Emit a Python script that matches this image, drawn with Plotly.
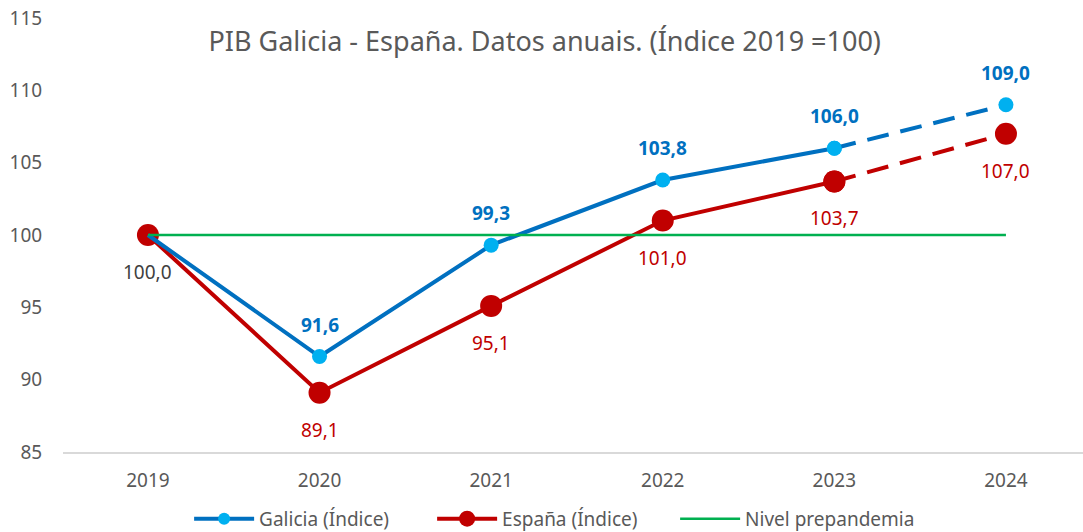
import plotly.graph_objects as go

years = ["2019", "2020", "2021", "2022", "2023", "2024"]
galicia = [100.0, 91.6, 99.3, 103.8, 106.0, 109.0]
espana = [100.0, 89.1, 95.1, 101.0, 103.7, 107.0]
prepandemia = [100, 100, 100, 100, 100, 100]
y_ticks = [85, 90, 95, 100, 105, 110, 115]

title = "PIB Galicia - España. Datos anuais. (Índice 2019 =100)"
FONT = "Noto Sans"
GRAY = "#595959"
BLUE = "#0070C0"
LBLUE = "#00B0F0"
RED = "#C00000"
GREEN = "#00B050"
DASH = "22px,12px"

fig = go.Figure()

# España (drawn first, under Galicia)
fig.add_trace(go.Scatter(
    x=years[:5], y=espana[:5], mode="lines+markers", name="España (Índice)",
    line=dict(color=RED, width=4),
    marker=dict(color=RED, size=22, opacity=1, line=dict(width=0)),
    legendrank=2,
))
fig.add_trace(go.Scatter(
    x=years[4:], y=espana[4:], mode="lines+markers", showlegend=False,
    line=dict(color=RED, width=4, dash=DASH),
    marker=dict(color=RED, size=22, opacity=1, line=dict(width=0)),
))

# Galicia
fig.add_trace(go.Scatter(
    x=years[:5], y=galicia[:5], mode="lines+markers", name="Galicia (Índice)",
    line=dict(color=BLUE, width=4),
    marker=dict(color=LBLUE, size=[0, 15, 15, 15, 15], opacity=1, line=dict(width=0)),
    legendrank=1,
))
fig.add_trace(go.Scatter(
    x=years[4:], y=galicia[4:], mode="lines+markers", showlegend=False,
    line=dict(color=BLUE, width=4, dash=DASH),
    marker=dict(color=LBLUE, size=15, opacity=1, line=dict(width=0)),
))

# Nivel prepandemia
fig.add_trace(go.Scatter(
    x=years, y=prepandemia, mode="lines", name="Nivel prepandemia",
    line=dict(color=GREEN, width=2.5), legendrank=3,
))

def fmt(v):
    return f"{v:.1f}".replace(".", ",")

annotations = []
for i, v in enumerate(galicia):
    if i == 0:
        continue
    annotations.append(dict(x=i, y=v, xref="x", yref="y", text=f"<b>{fmt(v)}</b>",
                            showarrow=False, yshift=32,
                            font=dict(family=FONT, size=19, color=BLUE)))
for i, v in enumerate(espana):
    color = "#404040" if i == 0 else RED
    annotations.append(dict(x=i, y=v, xref="x", yref="y", text=fmt(v),
                            showarrow=False, yshift=-37,
                            font=dict(family=FONT, size=19, color=color)))

fig.update_layout(
    width=1083, height=532,
    margin=dict(l=63, r=0, t=18, b=80, autoexpand=False),
    paper_bgcolor="white", plot_bgcolor="white",
    font=dict(family=FONT, size=19, color=GRAY),
    title=dict(text=title, x=0.503, xanchor="center", y=0.922, yanchor="middle",
               font=dict(family=FONT, size=27, color=GRAY)),
    showlegend=True,
    legend=dict(orientation="h", x=0.481, xanchor="center", y=-0.154, yanchor="middle",
                font=dict(family=FONT, size=19, color=GRAY), itemwidth=60,
                entrywidth=168, entrywidthmode="pixels",
                traceorder="normal"),
    annotations=annotations,
)
fig.update_xaxes(
    type="category", range=[-0.495, 5.449],
    showgrid=False, showline=True, linecolor="#D9D9D9", linewidth=2,
    ticks="outside", ticklen=10, tickcolor="white",
    tickfont=dict(family=FONT, size=19, color=GRAY),
)
fig.update_yaxes(
    range=[85, 115], tickvals=y_ticks, showgrid=False, zeroline=False,
    showline=False, ticks="outside", ticklen=16, tickcolor="white",
    ticklabeloverflow="allow",
    tickfont=dict(family=FONT, size=19, color=GRAY),
)

fig.write_html("out.html", config={"displayModeBar": False},
               post_script="document.body.style.margin='0';")
